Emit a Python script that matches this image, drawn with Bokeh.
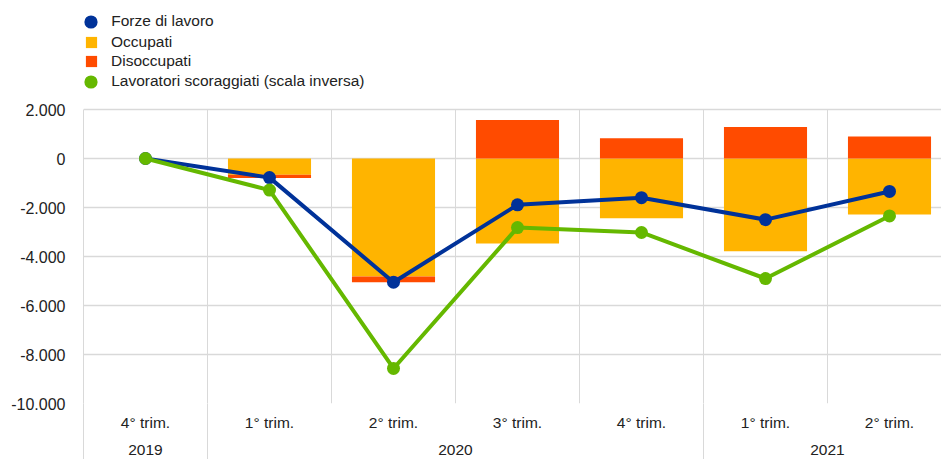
from bokeh.plotting import figure
from bokeh.models import (Range1d, FixedTicker, LinearAxis, Legend, LegendItem,
                          ColumnDataSource)
from bokeh.embed import file_html
from bokeh.resources import INLINE

# ---- data ----
quarters = ["4° trim.", "1° trim.", "2° trim.", "3° trim.", "4° trim.", "1° trim.", "2° trim."]
years = ["2019", "2020", "2021"]
year_counts = [1, 4, 2]

forze = [0, -780, -5050, -1890, -1600, -2495, -1345]
occupati = [0, -665, -4820, -3470, -2440, -3785, -2290]
disoccupati = [0, -135, -230, 1570, 830, 1290, 895]
scoraggiati = [0, -1290, -8570, -2820, -3020, -4900, -2345]

y_ticks = [-10000, -8000, -6000, -4000, -2000, 0, 2000]

labels_series = ["Forze di lavoro", "Occupati", "Disoccupati",
                 "Lavoratori scoraggiati (scala inversa)"]

BLUE = "#003299"
ORANGE = "#FFB400"
RED = "#FF4B00"
GREEN = "#65B800"
GRID = "#d9d9d9"
TXT = "#222222"
FONT = "Liberation Sans"
AX_FS = "15.5px"
Y_FS = "16px"
LG_FS = "15.5px"

n = len(quarters)
xs = list(range(n))

# stacking
occ_bot, occ_top, dis_bot, dis_top = [], [], [], []
for o, d in zip(occupati, disoccupati):
    occ_bot.append(min(o, 0)); occ_top.append(max(o, 0))
    if d < 0:
        dis_top.append(min(o, 0)); dis_bot.append(min(o, 0) + d)
    else:
        dis_bot.append(max(o, 0)); dis_top.append(max(o, 0) + d)

src = ColumnDataSource(dict(x=xs, occ_bot=occ_bot, occ_top=occ_top,
                            dis_bot=dis_bot, dis_top=dis_top,
                            forze=forze, scor=scoraggiati))

y_lo, y_hi = y_ticks[0], y_ticks[-1]
plot_px = 294          # pixel height of the value area
top_px = 109           # legend space above the value area (inside the frame)
y_top = y_hi + top_px * (y_hi - y_lo) / plot_px

p = figure(width=941, height=459, output_backend="svg", toolbar_location=None,
           x_range=Range1d(-0.5, -0.5 + 858 / 124), y_range=Range1d(y_lo, y_top),
           min_border_left=83, min_border_right=0, min_border_top=0,
           min_border_bottom=56)
p.outline_line_color = None
p.background_fill_color = "white"

# grids
p.xgrid.grid_line_color = None
p.ygrid.ticker = FixedTicker(ticks=y_ticks)
p.ygrid.grid_line_color = GRID
p.ygrid.grid_line_width = 1.5

seps = [i + 0.5 for i in range(n - 1)]
p.segment(x0=seps, x1=seps, y0=[y_lo] * len(seps), y1=[y_hi] * len(seps),
          line_color=GRID, line_width=1)

# y axis
ya = p.yaxis[0]
ya.ticker = FixedTicker(ticks=y_ticks)
ya.bounds = (y_lo, y_hi)
ya.major_label_overrides = {t: f"{t:,}".replace(",", ".") for t in y_ticks}
ya.major_tick_line_color = None
ya.minor_tick_line_color = None
ya.axis_line_color = GRID
ya.major_label_standoff = 12
ya.major_label_text_font = FONT
ya.major_label_text_font_size = Y_FS
ya.major_label_text_color = TXT

# year group boundaries / centres
centers, bounds = [], [-0.5]
start = 0
for c in year_counts:
    centers.append(start + (c - 1) / 2)
    start += c
    bounds.append(start - 0.5)

# x axis (quarters) + group separators as minor ticks
xa = p.xaxis[0]
xa.ticker = FixedTicker(ticks=xs, minor_ticks=bounds[:-1])
xa.major_label_overrides = {i: q for i, q in enumerate(quarters)}
xa.major_tick_line_color = None
xa.major_tick_in = 0
xa.major_tick_out = 0
xa.minor_tick_line_color = GRID
xa.minor_tick_in = 0
xa.minor_tick_out = 60
xa.axis_line_color = None
xa.major_label_standoff = -50
xa.major_label_text_font = FONT
xa.major_label_text_font_size = AX_FS
xa.major_label_text_color = TXT

# year axis
ya2 = LinearAxis(ticker=FixedTicker(ticks=centers),
                 major_label_overrides={c: y for c, y in zip(centers, years)})
ya2.major_tick_line_color = None
ya2.major_tick_in = 0
ya2.major_tick_out = 0
ya2.minor_tick_line_color = None
ya2.minor_tick_in = 0
ya2.minor_tick_out = 0
ya2.axis_line_color = None
ya2.major_label_standoff = 11
ya2.major_label_text_font = FONT
ya2.major_label_text_font_size = AX_FS
ya2.major_label_text_color = TXT
p.add_layout(ya2, "below")

# bars
r_occ = p.vbar(x="x", width=0.67, bottom="occ_bot", top="occ_top", source=src,
               fill_color=ORANGE, line_color=None)
r_dis = p.vbar(x="x", width=0.67, bottom="dis_bot", top="dis_top", source=src,
               fill_color=RED, line_color=None)

# lines
p.line(x="x", y="forze", source=src, line_color=BLUE, line_width=4)
r_forze = p.scatter(x="x", y="forze", source=src, size=13, fill_color=BLUE, line_color=None)
p.line(x="x", y="scor", source=src, line_color=GREEN, line_width=4)
r_scor = p.scatter(x="x", y="scor", source=src, size=13, fill_color=GREEN, line_color=None)

# legends (one per row)
def add_legend(label, rend, vx, vy, gw, gh, standoff):
    lg = Legend(items=[LegendItem(label=label, renderers=[rend])], location=(vx, vy),
                glyph_width=gw, glyph_height=gh, label_height=gh,
                label_standoff=standoff, padding=0, spacing=0, margin=0,
                background_fill_alpha=0, border_line_color=None,
                label_text_font=FONT, label_text_font_size=LG_FS,
                label_text_color=TXT)
    p.add_layout(lg)

add_legend(labels_series[0], r_forze, -8.8, 403 - 37.7, 33, 33, 4)
add_legend(labels_series[1], r_occ, 1, 403 - 50.8, 14, 14, 13)
add_legend(labels_series[2], r_dis, 1, 403 - 70.0, 14, 14, 13)
add_legend(labels_series[3], r_scor, -8.8, 403 - 97.8, 33, 33, 4)

open("out.html", "w").write(file_html(p, INLINE))
